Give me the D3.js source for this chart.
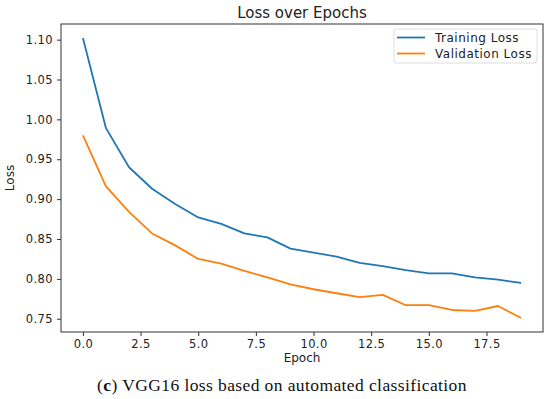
<!DOCTYPE html>
<html lang="en">
<head>
  <meta charset="UTF-8">
  <title>Loss over Epochs</title>
  <style>
    body { margin: 0; background: #fff; }
    svg text { font-family: "DejaVu Sans", sans-serif; fill: #222; }
  </style>
</head>
<body>
  <div id="chart"></div>

  <script src="https://d3js.org/d3.v7.min.js"></script>
  <script>
    // values
    const epochs = d3.range(0, 20);
    const trainingLoss = [1.102, 0.989, 0.940, 0.913, 0.894, 0.877, 0.869, 0.857, 0.852, 0.838,
                          0.833, 0.828, 0.820, 0.816, 0.811, 0.807, 0.807, 0.802, 0.799, 0.795];
    const validationLoss = [0.980, 0.916, 0.884, 0.857, 0.842, 0.825, 0.819, 0.810, 0.802, 0.793,
                            0.787, 0.782, 0.777, 0.780, 0.767, 0.767, 0.761, 0.760, 0.766, 0.751];
    const xTicks = [0, 2.5, 5, 7.5, 10, 12.5, 15, 17.5];
    const yTicks = [0.75, 0.80, 0.85, 0.90, 0.95, 1.00, 1.05, 1.10];
    const seriesNames = ['Training Loss', 'Validation Loss'];
    const seriesColors = ['#1f77b4', '#ff7f0e'];

    const width = 550;
    const height = 399;
    const margin = { top: 24, right: 7, bottom: 67, left: 61 };

    const svg = d3.select('#chart')
      .append('svg')
      .attr('width', width)
      .attr('height', height);

    const xScale = d3.scaleLinear()
      .domain([-0.95, 19.95])
      .range([margin.left, width - margin.right]);

    const yScale = d3.scaleLinear()
      .domain([0.7334, 1.1196])
      .range([height - margin.bottom, margin.top]);

    // axes
    const xAxis = d3.axisBottom(xScale)
      .tickValues(xTicks)
      .tickSize(4)
      .tickPadding(4)
      .tickFormat(d3.format('.1f'));

    const yAxis = d3.axisLeft(yScale)
      .tickValues(yTicks)
      .tickSize(4)
      .tickPadding(4)
      .tickFormat(d3.format('.2f'));

    const gx = svg.append('g')
      .attr('transform', `translate(0, ${height - margin.bottom})`)
      .call(xAxis);

    const gy = svg.append('g')
      .attr('transform', `translate(${margin.left}, 0)`)
      .call(yAxis);

    [gx, gy].forEach(g => {
      g.select('.domain').remove();
      g.selectAll('line').attr('stroke', '#333');
      g.selectAll('text').attr('font-size', 11.5).attr('fill', '#222')
        .style('letter-spacing', '0.4px')
        .style('font-family', '"DejaVu Sans", sans-serif');
    });

    // frame
    svg.append('rect')
      .attr('x', margin.left)
      .attr('y', margin.top)
      .attr('width', width - margin.left - margin.right)
      .attr('height', height - margin.top - margin.bottom)
      .attr('fill', 'none')
      .attr('stroke', '#333')
      .attr('stroke-width', 1);

    // lines
    const line = d3.line()
      .x((d, i) => xScale(epochs[i]))
      .y(d => yScale(d));

    [trainingLoss, validationLoss].forEach((vals, k) => {
      svg.append('path')
        .datum(vals)
        .attr('fill', 'none')
        .attr('stroke', seriesColors[k])
        .attr('stroke-width', 1.8)
        .attr('stroke-linejoin', 'round')
        .attr('d', line);
    });

    // titles
    const cx = (margin.left + width - margin.right) / 2;
    svg.append('text')
      .attr('x', cx)
      .attr('y', 18)
      .attr('text-anchor', 'middle')
      .attr('font-size', 15)
      .text('Loss over Epochs');

    svg.append('text')
      .attr('x', cx)
      .attr('y', 362)
      .attr('text-anchor', 'middle')
      .attr('font-size', 12)
      .text('Epoch');

    svg.append('text')
      .attr('transform', `translate(14, ${(margin.top + height - margin.bottom) / 2}) rotate(-90)`)
      .attr('text-anchor', 'middle')
      .attr('font-size', 12)
      .text('Loss');

    // legend
    const legend = svg.append('g').attr('transform', 'translate(394, 29)');
    legend.append('rect')
      .attr('width', 143)
      .attr('height', 34)
      .attr('rx', 2)
      .attr('fill', '#fff')
      .attr('stroke', '#ddd');

    seriesNames.forEach((name, k) => {
      const y = 8.5 + k * 16;
      legend.append('line')
        .attr('x1', 3).attr('x2', 31)
        .attr('y1', y).attr('y2', y)
        .attr('stroke', seriesColors[k])
        .attr('stroke-width', 1.8);
      legend.append('text')
        .attr('x', 41)
        .attr('y', y + 4.5)
        .attr('font-size', 12)
        .style('letter-spacing', '0.5px')
        .text(name);
    });

    // caption
    const caption = svg.append('text')
      .attr('x', 282)
      .attr('y', 391)
      .attr('text-anchor', 'middle')
      .attr('font-size', 17.5)
      .style('font-family', '"Liberation Serif", serif')
      .style('letter-spacing', '0.4px')
      .style('fill', '#111');
    caption.append('tspan').text('(');
    caption.append('tspan').attr('font-weight', 'bold').text('c');
    caption.append('tspan').text(') VGG16 loss based on automated classification');
  </script>
</body>
</html>
